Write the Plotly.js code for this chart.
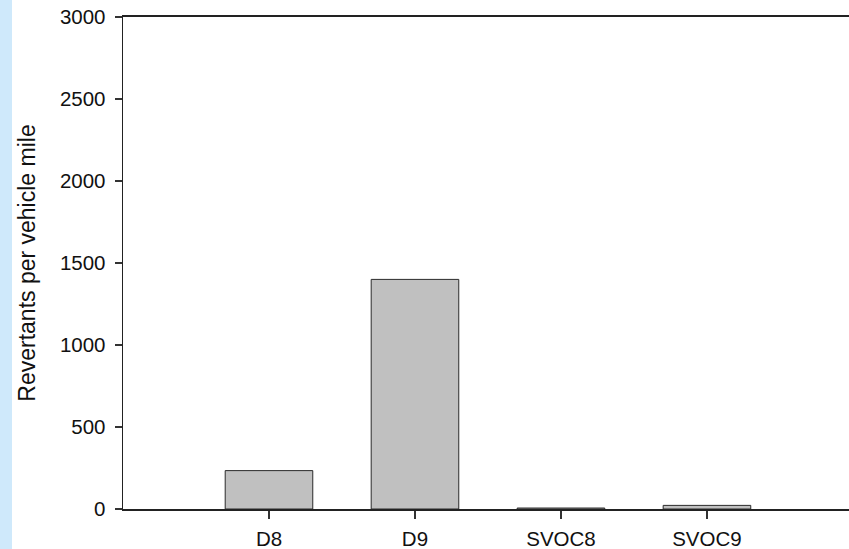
<!DOCTYPE html>
<html>
<head>
<meta charset="utf-8">
<script src="https://cdn.plot.ly/plotly-3.0.1.min.js"></script>
<style>
  html, body { margin: 0; padding: 0; }
  body { width: 849px; height: 549px; background: linear-gradient(to right, #cfe9fb 0, #cfe9fb 12px, #ffffff 12px); }
  #chart { width: 849px; height: 549px; }
</style>
</head>
<body>
<div id="chart"></div>
<script>
// Mutagenic activity per vehicle mile, by sample
const categories = ["D8", "D9", "SVOC8", "SVOC9"];
const revertants = [234, 1400, 6, 22];
const yTicks = [0, 500, 1000, 1500, 2000, 2500, 3000];

const trace = {
  type: "bar",
  x: categories,
  y: revertants,
  width: 0.6,
  marker: { color: "#c0c0c0", line: { color: "#2a2a2a", width: 1 } },
  hoverinfo: "x+y"
};

const font = { family: "Arial, 'Liberation Sans', sans-serif", color: "#111111" };

const layout = {
  width: 849,
  height: 549,
  margin: { l: 123, r: 0, t: 17, b: 40 },
  paper_bgcolor: "rgba(0,0,0,0)",
  plot_bgcolor: "#ffffff",
  showlegend: false,
  bargap: 0.4,
  font: font,
  xaxis: {
    type: "category",
    range: [-1, 3.973],
    showline: true,
    linecolor: "#222222",
    linewidth: 1.6,
    mirror: true,
    ticks: "outside",
    ticklen: 8,
    tickwidth: 1.2,
    tickcolor: "#333333",
    showgrid: false,
    zeroline: false,
    tickfont: { family: font.family, size: 20.5, color: "#111111" },
    ticklabelstandoff: 3,
    fixedrange: true
  },
  yaxis: {
    range: [0, 3000],
    tickvals: yTicks,
    ticktext: yTicks.map(String),
    showline: true,
    linecolor: "#222222",
    linewidth: 1.4,
    ticks: "outside",
    ticklen: 7,
    tickwidth: 1.2,
    tickcolor: "#333333",
    showgrid: false,
    zeroline: false,
    tickfont: { family: font.family, size: 20.5, color: "#111111" },
    ticklabelstandoff: 5,
    title: {
      text: "Revertants per vehicle mile",
      font: { family: font.family, size: 23, color: "#111111" },
      standoff: 18
    },
    automargin: false,
    fixedrange: true
  }
};

Plotly.newPlot("chart", [trace], layout, { displayModeBar: false, staticPlot: true });
</script>
</body>
</html>
